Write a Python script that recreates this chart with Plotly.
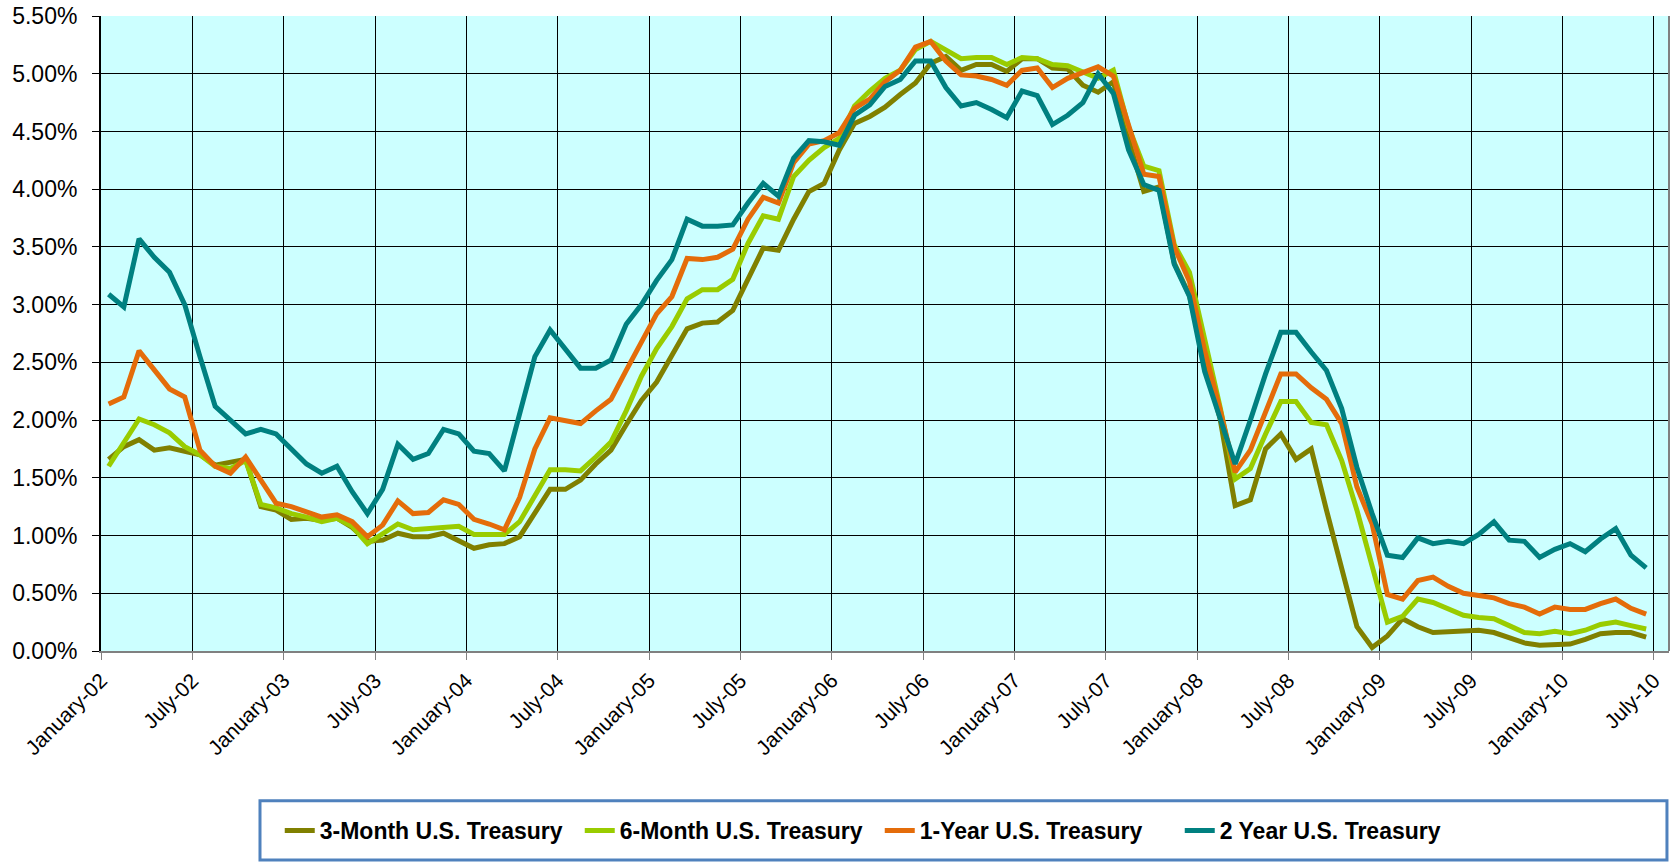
import plotly.graph_objects as go

# Monthly observations, January 2002 .. June 2010 (102 months)
start_year = 2002
n_months = 102

three_month = [1.66, 1.77, 1.83, 1.74, 1.76, 1.73, 1.70, 1.61, 1.63, 1.66,
               1.25, 1.22, 1.14, 1.15, 1.13, 1.15, 1.07, 0.95, 0.96, 1.02,
               0.99, 0.99, 1.02, 0.96, 0.89, 0.92, 0.93, 0.99, 1.20, 1.40,
               1.40, 1.48, 1.62, 1.74, 1.96, 2.17, 2.33, 2.55, 2.79, 2.84,
               2.85, 2.95, 3.23, 3.49, 3.47, 3.74, 3.98, 4.05, 4.34, 4.57,
               4.63, 4.71, 4.82, 4.92, 5.09, 5.15, 5.03, 5.08, 5.08, 5.02,
               5.13, 5.13, 5.05, 5.04, 4.90, 4.84, 4.93, 4.43, 3.98, 4.02,
               3.36, 3.08, 2.50, 2.02, 1.26, 1.31, 1.75, 1.88, 1.66, 1.75,
               1.22, 0.70, 0.21, 0.03, 0.13, 0.28, 0.21, 0.16, 0.17, 0.18,
               0.18, 0.16, 0.11, 0.07, 0.05, 0.05, 0.06, 0.10, 0.15, 0.16,
               0.16, 0.12]

six_month = [1.60, 1.81, 2.01, 1.96, 1.89, 1.77, 1.70, 1.60, 1.58, 1.65,
             1.27, 1.24, 1.19, 1.16, 1.12, 1.15, 1.08, 0.93, 1.01, 1.10,
             1.05, 1.06, 1.08, 1.08, 1.01, 1.01, 1.01, 1.12, 1.35, 1.57,
             1.57, 1.56, 1.68, 1.81, 2.08, 2.38, 2.62, 2.81, 3.05, 3.13,
             3.13, 3.22, 3.53, 3.77, 3.74, 4.11, 4.25, 4.36, 4.44, 4.72,
             4.85, 4.96, 5.03, 5.21, 5.28, 5.21, 5.13, 5.14, 5.14, 5.08,
             5.14, 5.13, 5.08, 5.07, 5.01, 4.96, 5.03, 4.54, 4.20, 4.16,
             3.52, 3.28, 2.70, 2.12, 1.49, 1.58, 1.88, 2.16, 2.16, 1.98,
             1.96, 1.65, 1.22, 0.73, 0.25, 0.30, 0.45, 0.42, 0.36, 0.31,
             0.29, 0.28, 0.22, 0.16, 0.15, 0.17, 0.15, 0.18, 0.23, 0.25,
             0.22, 0.19]

one_year = [2.14, 2.20, 2.60, 2.44, 2.27, 2.20, 1.74, 1.60, 1.54, 1.68,
            1.48, 1.28, 1.25, 1.20, 1.16, 1.18, 1.12, 0.99, 1.09, 1.30,
            1.19, 1.20, 1.31, 1.27, 1.14, 1.10, 1.05, 1.33, 1.75, 2.02,
            1.99, 1.97, 2.08, 2.18, 2.43, 2.67, 2.92, 3.07, 3.40, 3.39,
            3.41, 3.48, 3.74, 3.93, 3.88, 4.23, 4.39, 4.42, 4.49, 4.70,
            4.78, 4.93, 5.03, 5.23, 5.28, 5.11, 4.99, 4.98, 4.95, 4.90,
            5.03, 5.05, 4.88, 4.96, 5.01, 5.06, 4.98, 4.57, 4.13, 4.11,
            3.50, 3.20, 2.60, 2.10, 1.55, 1.74, 2.07, 2.40, 2.40, 2.28,
            2.18, 1.97, 1.42, 1.10, 0.49, 0.45, 0.61, 0.64, 0.56, 0.50,
            0.48, 0.46, 0.41, 0.38, 0.32, 0.38, 0.36, 0.36, 0.41, 0.45,
            0.37, 0.32]

two_year = [3.09, 2.98, 3.57, 3.41, 3.28, 3.00, 2.55, 2.12, 2.00, 1.88,
            1.92, 1.88, 1.75, 1.62, 1.54, 1.60, 1.38, 1.19, 1.40, 1.79,
            1.66, 1.71, 1.92, 1.88, 1.73, 1.71, 1.56, 2.06, 2.55, 2.78,
            2.62, 2.45, 2.45, 2.52, 2.83, 3.00, 3.21, 3.39, 3.74, 3.68,
            3.68, 3.69, 3.88, 4.05, 3.94, 4.27, 4.42, 4.41, 4.38, 4.64,
            4.73, 4.89, 4.95, 5.11, 5.11, 4.88, 4.72, 4.75, 4.69, 4.62,
            4.85, 4.81, 4.56, 4.64, 4.75, 5.00, 4.83, 4.34, 4.04, 3.99,
            3.35, 3.07, 2.42, 2.03, 1.62, 2.00, 2.40, 2.76, 2.76, 2.59,
            2.43, 2.10, 1.59, 1.19, 0.83, 0.81, 0.98, 0.93, 0.95, 0.93,
            1.01, 1.12, 0.96, 0.95, 0.81, 0.88, 0.93, 0.86, 0.97, 1.06,
            0.83, 0.72]

tick_labels = ["January-02", "July-02", "January-03", "July-03", "January-04",
               "July-04", "January-05", "July-05", "January-06", "July-06",
               "January-07", "July-07", "January-08", "July-08", "January-09",
               "July-09", "January-10", "July-10"]

series = [
    ("3-Month U.S. Treasury", three_month, "#808000"),
    ("6-Month U.S. Treasury", six_month, "#99CC00"),
    ("1-Year U.S. Treasury", one_year, "#E46C0A"),
    ("2 Year U.S. Treasury", two_year, "#008080"),
]

# month index: each month occupies one slot; value plotted at slot centre
x_idx = list(range(n_months))
tick_pos = [i * 6 - 0.5 for i in range(len(tick_labels))]

FONT = "Liberation Sans, Arial, sans-serif"

fig = go.Figure()
for name, vals, color in series:
    fig.add_trace(go.Scatter(
        x=x_idx, y=vals, name=name, mode="lines",
        line=dict(color=color, width=5),
    ))

fig.update_layout(
    width=1679, height=862,
    margin=dict(l=101, r=10, t=16, b=211),
    paper_bgcolor="white",
    plot_bgcolor="#CCFFFF",
    font=dict(family=FONT, size=21, color="black"),
    showlegend=True,
    legend=dict(
        orientation="h",
        x=0.114, xanchor="left",
        y=-0.2827, yanchor="middle",
        font=dict(family=FONT, size=23, color="black", weight="bold"),
        entrywidth=255, entrywidthmode="pixels",
        bgcolor="rgba(0,0,0,0)",
        itemwidth=30,
    ),
)

fig.update_xaxes(
    range=[-0.5, 102.5], automargin=False,
    tickmode="array", tickvals=tick_pos, ticktext=tick_labels,
    tickangle=-45,
    tickfont=dict(family=FONT, size=21),
    showgrid=True, gridcolor="#000000", gridwidth=1,
    showline=True, linecolor="#808080", linewidth=2,
    ticks="outside", ticklen=7, tickcolor="#808080", tickwidth=1,
    zeroline=False,
)
fig.update_yaxes(
    range=[0, 5.5], dtick=0.5, tick0=0, automargin=False,
    tickformat=".2f", ticksuffix="%",
    tickfont=dict(family=FONT, size=23),
    ticklabelstandoff=10,
    showgrid=True, gridcolor="#000000", gridwidth=1,
    showline=True, linecolor="#000000", linewidth=2,
    ticks="outside", ticklen=7, tickcolor="#000000", tickwidth=1,
    zeroline=False,
)

# right border of the plot area
fig.add_shape(type="line", xref="paper", yref="paper", x0=1, x1=1, y0=0, y1=1,
              line=dict(color="#808080", width=2))
# legend frame
fig.add_shape(type="rect", xref="paper", yref="paper",
              x0=0.1014, x1=0.9987, y0=-0.329, y1=-0.236,
              line=dict(color="#4F81BD", width=3), fillcolor="rgba(0,0,0,0)")

fig.write_html("out.html",
               config={"displayModeBar": False},
               post_script="document.body.style.margin='0';document.body.style.overflow='hidden';")
